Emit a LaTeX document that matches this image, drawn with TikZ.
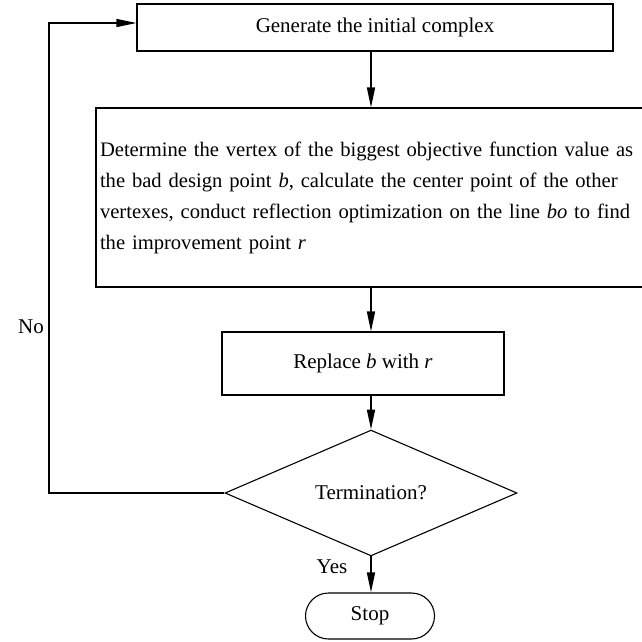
\documentclass[tikz,border=0pt]{standalone}
\usepackage{fontspec}
\setmainfont{Liberation Serif}
\usetikzlibrary{arrows.meta,shapes.geometric}
\begin{document}
\begin{tikzpicture}[x=1pt,y=-1pt,
  box/.style={draw, line width=1.1pt, rectangle, inner sep=0pt},
  txt/.style={font=\fontsize{21}{31}\selectfont},
  smalltxt/.style={font=\fontsize{20.6}{31}\selectfont},
  arr/.style={draw, line width=1.6pt, -{Triangle[length=20pt,width=8pt]}},
  fb/.style={draw, line width=1.1pt, -{Triangle[length=20pt,width=8pt]}}]
\useasboundingbox (0,0) rectangle (642,642);

% process boxes
\node[box, txt, minimum width=476pt, minimum height=47pt] (gen) at (375,27.5)
  {Generate the initial complex};
\node[box, smalltxt, minimum width=560pt, minimum height=179pt, text width=552pt,
      align=left, inner xsep=4pt] (det) at (376,197.5)
  {Determine the vertex of the biggest objective function value as\\
   the bad design point \textit{b}, calculate the center point of the other\\
   vertexes, conduct reflection optimization on the line \textit{bo} to find\\
   the improvement point \textit{r}};
\node[box, txt, minimum width=282pt, minimum height=63pt] (rep) at (363,363.5)
  {Replace \textit{b} with \textit{r}};

% decision and terminal
\node[diamond, draw, line width=1.1pt, txt, inner sep=0pt,
      minimum width=292pt, minimum height=80pt] (dec) at (371,493) {Termination?};
\node[box, txt, rounded corners=23pt, minimum width=129pt, minimum height=46pt]
  (stop) at (370,616) {Stop};

% main flow
\draw[arr] (gen.south -| dec.north) -- (det.north -| dec.north);
\draw[arr] (det.south -| dec.north) -- (rep.north -| dec.north);
\draw[arr] (rep.south -| dec.north) -- (dec.north);
\draw[arr] (dec.south) -- (stop.north -| dec.south);

% loop back
\coordinate (lp) at (49,493);
\draw[fb] (dec.west) -- (lp) |- ([yshift=4.5pt]gen.west);

% branch labels
\node[txt] (yes) at (332,567) {Yes};
\node[txt] (no) at (31,327) {No};
\end{tikzpicture}
\end{document}
